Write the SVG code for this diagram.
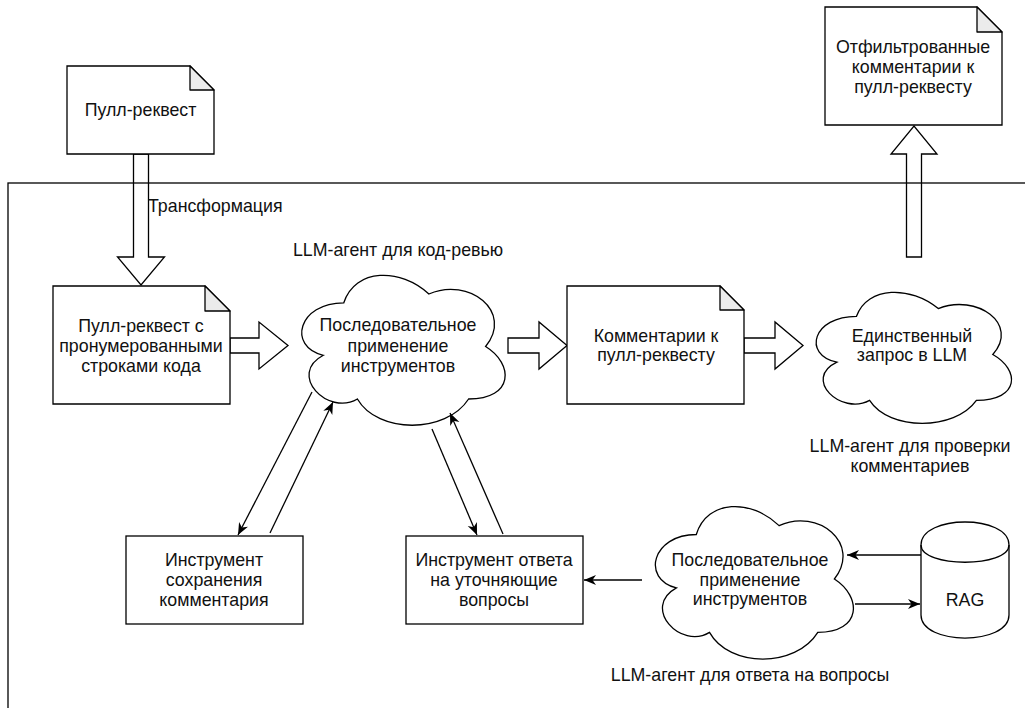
<svg xmlns="http://www.w3.org/2000/svg" width="1025" height="708" viewBox="0 0 1025 708">
<style>
.s{fill:#fff;stroke:#000;stroke-width:1.3}
.fold{fill:#ebebeb;stroke:#000;stroke-width:1.3;stroke-linejoin:round}
.ba{fill:#fff;stroke:#000;stroke-width:1.3;stroke-linejoin:miter}
.ln{fill:none;stroke:#000;stroke-width:1.3}
text{font-family:"Liberation Sans",Arial,sans-serif;font-size:17.8px;fill:#111;text-anchor:middle}
.l{text-anchor:start}
</style>
<defs>
<marker id="ar" markerUnits="userSpaceOnUse" markerWidth="13" markerHeight="11" refX="12" refY="5.5" orient="auto">
<path d="M0,0.5 L12,5.5 L0,10.5 L3.5,5.5 Z" fill="#000"/>
</marker>
</defs>
<rect width="1025" height="708" fill="#fff"/>

<g id="block-arrows">
<polygon class="ba" points="133.5,154 148.5,154 148.5,257 164.5,257 141,285 117.5,257 133.5,257"/>
<polygon class="ba" points="230,338 259,338 259,322 288,345.5 259,369 259,353 230,353"/>
<polygon class="ba" points="508,338 539,338 539,322 567,345.5 539,369 539,353 508,353"/>
<polygon class="ba" points="744,338 775,338 775,322 803,345.5 775,369 775,353 744,353"/>
<polygon class="ba" points="906.5,257 921.5,257 921.5,154 937,154 914,126 891,154 906.5,154"/>
</g>

<g id="container">
<rect x="8" y="183" width="1100" height="600" fill="none" stroke="#000" stroke-width="1.3"/>
</g>

<g id="doc-pr">
<path class="s" d="M67,66 L190,66 L214,90 L214,154 L67,154 Z"/>
<path class="fold" d="M190,66 L190,90 L214,90 Z"/>
<text x="140.5" y="116">Пулл-реквест</text>
</g>

<g id="label-transform"><text class="l" x="148" y="212">Трансформация</text></g>

<g id="doc-numbered">
<path class="s" d="M53,286 L205,286 L230,311 L230,404 L53,404 Z"/>
<path class="fold" d="M205,286 L205,311 L230,311 Z"/>
<text x="141" y="332">Пулл-реквест с</text>
<text x="141" y="352">пронумерованными</text>
<text x="141" y="372">строками кода</text>
</g>

<g id="cloud-review">
<path class="s" d="M343.8,302.8 C298.4,302.8 287,346.5 323.3,355.3 C287,374.5 327.9,416.5 357.4,399 C377.8,434 445.9,434 468.6,399 C514,399 514,364 485.6,346.5 C514,311.5 468.6,276.5 428.9,294 C400.5,267.8 355.1,267.8 343.8,302.8 Z"/>
<text x="398" y="331">Последовательное</text>
<text x="398" y="352">применение</text>
<text x="398" y="372">инструментов</text>
<text x="398" y="256">LLM-агент для код-ревью</text>
</g>

<g id="doc-comments">
<path class="s" d="M567,286 L720,286 L744,310 L744,404 L567,404 Z"/>
<path class="fold" d="M720,286 L720,310 L744,310 Z"/>
<text x="656" y="342">Комментарии к</text>
<text x="656" y="361">пулл-реквесту</text>
</g>

<g id="cloud-check">
<path class="s" d="M856.5,316.3 C812.9,316.3 802,354.5 836.9,362.2 C802,379 841.2,415.7 869.6,400.4 C889.2,431 954.6,431 976.4,400.4 C1020,400.4 1020,369.8 992.8,354.5 C1020,323.9 976.4,293.3 938.3,308.6 C911,285.7 867.4,285.7 856.5,316.3 Z"/>
<text x="912" y="342">Единственный</text>
<text x="912" y="361">запрос в LLM</text>
<text x="910" y="452">LLM-агент для проверки</text>
<text x="910" y="472">комментариев</text>
</g>

<g id="doc-filtered">
<path class="s" d="M825,7 L977,7 L1002,32 L1002,125 L825,125 Z"/>
<path class="fold" d="M977,7 L977,32 L1002,32 Z"/>
<text x="913" y="53">Отфильтрованные</text>
<text x="913" y="73">комментарии к</text>
<text x="913" y="93">пулл-реквесту</text>
</g>

<g id="tool-save">
<rect class="s" x="126" y="536" width="177" height="88"/>
<text x="214" y="566">Инструмент</text>
<text x="214" y="586">сохранения</text>
<text x="214" y="606">комментария</text>
</g>

<g id="tool-answer">
<rect class="s" x="406" y="536" width="177" height="88"/>
<text x="494" y="566">Инструмент ответа</text>
<text x="494" y="586">на уточняющие</text>
<text x="494" y="606">вопросы</text>
</g>

<g id="cloud-qa">
<path class="s" d="M696.3,534.5 C652.1,534.5 641,579 676.4,587.9 C641,607.5 680.8,650.2 709.5,632.4 C729.4,668 795.7,668 817.8,632.4 C862,632.4 862,596.8 834.4,579 C862,543.4 817.8,507.8 779.1,525.6 C751.5,498.9 707.3,498.9 696.3,534.5 Z"/>
<text x="750" y="566">Последовательное</text>
<text x="750" y="586">применение</text>
<text x="750" y="605">инструментов</text>
<text x="750" y="681">LLM-агент для ответа на вопросы</text>
</g>

<g id="rag">
<path class="s" d="M921,545 C921,514.3 1009,514.3 1009,545 L1009,615 C1009,645.7 921,645.7 921,615 Z"/>
<path class="ln" d="M921,545 C921,568 1009,568 1009,545"/>
<text x="965" y="606">RAG</text>
</g>

<g id="connectors">
<line class="ln" x1="312" y1="392" x2="238" y2="535" marker-end="url(#ar)"/>
<line class="ln" x1="270" y1="533" x2="333" y2="402" marker-end="url(#ar)"/>
<line class="ln" x1="432" y1="429" x2="477" y2="535" marker-end="url(#ar)"/>
<line class="ln" x1="503" y1="534" x2="450" y2="413" marker-end="url(#ar)"/>
<line class="ln" x1="642" y1="580" x2="584" y2="580" marker-end="url(#ar)"/>
<line class="ln" x1="921" y1="555" x2="847" y2="555" marker-end="url(#ar)"/>
<line class="ln" x1="855" y1="604" x2="920" y2="604" marker-end="url(#ar)"/>
</g>
</svg>
